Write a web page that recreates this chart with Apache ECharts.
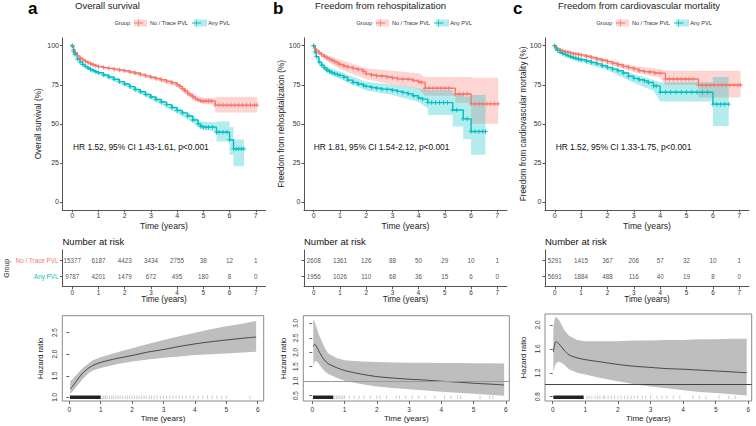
<!DOCTYPE html>
<html><head><meta charset="utf-8">
<script src="https://cdn.jsdelivr.net/npm/echarts@6/dist/echarts.min.js"></script>
<style>html,body{margin:0;padding:0;background:#fff}#c{width:756px;height:426px}</style>
</head><body><div id="c"></div>
<script>
// ---------------- DATA ----------------
const groups = ['No / Trace PVL', 'Any PVL'];
const panelLetters = ['a', 'b', 'c'];
const panelTitles = ['Overall survival', 'Freedom from rehospitalization', 'Freedom from cardiovascular mortality'];
const kmYTitles = ['Overall survival (%)', 'Freedom from rehospitalization (%)', 'Freedom from cardiovascular mortality (%)'];
const hrTexts = ['HR 1.52, 95% CI 1.43-1.61, p<0.001', 'HR 1.81, 95% CI 1.54-2.12, p<0.001', 'HR 1.52, 95% CI 1.33-1.75, p<0.001'];
const kmTicksX = [0, 1, 2, 3, 4, 5, 6, 7];
const kmTicksY = [0, 25, 50, 75, 100];
const riskTimes = [0, 1, 2, 3, 4, 5, 6, 7];
const hzTicksX = [0, 1, 2, 3, 4, 5, 6];
const hzTicksYA = [1.0, 1.5, 2.0, 2.5];
const hzTicksYB = [0.5, 1.0, 1.5, 2.0, 2.5, 3.0];
const hzTicksYC = [0.8, 1.2, 1.6, 2.0];

// Kaplan-Meier curves [time, survival %]
const kmA_noTrace = [[0,100],[0.05,97.5],[0.1,95.5],[0.2,93.5],[0.3,92],[0.4,91],[0.5,90],[0.6,89.2],[0.7,88.5],[0.8,87.8],[0.9,87.2],[1,86.6],[1.2,86],[1.4,85.5],[1.6,85],[1.8,84.5],[2,84],[2.2,83.2],[2.4,82.5],[2.6,81.6],[2.8,80.7],[3,79.8],[3.2,79],[3.4,78.2],[3.6,77.3],[3.8,76.3],[4,75],[4.1,74],[4.2,72.5],[4.3,71],[4.4,69.5],[4.5,68.5],[4.6,67.2],[4.7,66],[4.8,65.3],[4.9,64.8],[5.0,64.6],[5.1,64.6],[5.2,64.6],[5.3,64.6],[5.45,62],[5.6,62],[5.75,62],[5.9,62],[6.05,62],[6.2,62],[6.35,62],[6.5,62],[6.65,62],[6.8,62],[6.95,62],[7.05,62]];
const kmA_any = [[0,100],[0.05,96.5],[0.1,94.5],[0.2,91.5],[0.3,89.5],[0.4,88],[0.5,86.8],[0.6,85.7],[0.7,84.8],[0.8,84],[0.9,83.3],[1,82.7],[1.2,81.3],[1.4,80],[1.6,78.5],[1.8,77],[2,75.5],[2.2,73.8],[2.4,72],[2.6,70.5],[2.8,68.8],[3,67.2],[3.2,65.6],[3.4,64],[3.6,62.3],[3.8,60.5],[4,58.5],[4.2,57],[4.4,55],[4.6,52.5],[4.8,50],[4.9,48.5],[5,47.9],[5.1,47.9],[5.2,47.9],[5.35,47.9],[5.5,44.6],[5.6,44.6],[5.75,44.6],[5.9,44.6],[6.0,39.8],[6.15,34],[6.25,34],[6.35,34],[6.45,34],[6.55,34]];
const kmB_noTrace = [[0,100],[0.05,98],[0.1,97],[0.2,95.5],[0.3,94.3],[0.4,93.3],[0.5,92.3],[0.6,91.4],[0.7,90.6],[0.8,89.8],[0.9,89],[1,88],[1.15,87],[1.3,86.3],[1.5,85.5],[1.7,84.8],[1.9,83.5],[2,82],[2.2,81.3],[2.4,80.8],[2.6,80.5],[2.8,80],[3,79.5],[3.2,78.8],[3.4,78.5],[3.6,78.5],[3.8,77.7],[4,77],[4.1,76.5],[4.25,72.8],[4.4,72.8],[4.55,72.8],[4.7,72.8],[4.85,72.8],[5.0,72.8],[5.15,72.8],[5.4,69.1],[5.55,69.1],[5.7,69.1],[5.85,69.1],[6.0,62.8],[6.15,62.8],[6.3,62.8],[6.45,62.8],[6.6,62.8],[6.75,62.8],[6.9,62.8],[7.03,62.8]];
const kmB_any = [[0,100],[0.05,96],[0.1,93],[0.2,89.5],[0.3,87.5],[0.4,85.8],[0.5,84.5],[0.6,83.5],[0.7,82.7],[0.8,82],[0.9,81.5],[1,81],[1.15,79.8],[1.3,78],[1.5,76.5],[1.7,75.5],[1.9,74.6],[2,74],[2.2,73.3],[2.4,72.8],[2.6,72.2],[2.8,72],[3,71.5],[3.2,70.8],[3.4,70],[3.6,69.2],[3.8,68],[4,66.5],[4.15,65.8],[4.35,63.6],[4.5,63.6],[4.65,63.6],[4.8,63.6],[4.95,63.6],[5.1,63.6],[5.3,58.9],[5.45,58.9],[5.7,53.2],[5.85,53.2],[6.0,45.1],[6.15,45.1],[6.3,45.1],[6.45,45.1],[6.55,45.1]];
const kmC_noTrace = [[0,100],[0.05,98.8],[0.1,98],[0.2,97.2],[0.3,96.6],[0.4,96.1],[0.5,95.7],[0.6,95.3],[0.7,94.9],[0.8,94.6],[0.9,94.3],[1,94],[1.2,93.3],[1.4,92.5],[1.6,91.5],[1.8,90.7],[2,89.8],[2.2,88.8],[2.4,87.8],[2.6,86.8],[2.8,86],[3,85.2],[3.2,84],[3.4,83.4],[3.6,83],[3.8,82.5],[4,82.3],[4.2,78.7],[4.35,78.7],[4.5,78.7],[4.65,78.7],[4.8,78.7],[4.95,78.7],[5.1,78.7],[5.25,78.7],[5.45,74.9],[5.6,74.9],[5.75,74.9],[5.9,74.9],[6.05,74.9],[6.2,74.9],[6.35,74.9],[6.5,74.9],[6.65,74.9],[6.8,74.9],[6.95,74.9],[7.05,74.9]];
const kmC_any = [[0,100],[0.05,98],[0.1,97],[0.2,95.8],[0.3,95],[0.4,94.2],[0.5,93.5],[0.6,92.9],[0.7,92.3],[0.8,91.8],[0.9,91.3],[1,90.9],[1.2,90.2],[1.4,89.3],[1.6,88.4],[1.8,87.2],[2,86],[2.2,85],[2.4,84],[2.6,82.5],[2.8,80.5],[3,79.1],[3.2,78.2],[3.4,77.5],[3.55,76.5],[3.75,74.3],[3.85,74.3],[4.0,70.2],[4.2,70.2],[4.4,70.2],[4.6,70.2],[4.8,70.2],[5.0,70.2],[5.2,70.2],[5.4,70.2],[5.6,70.2],[5.8,70.2],[6.0,62.6],[6.15,62.6],[6.3,62.6],[6.45,62.6],[6.6,62.6]];

// 95% CI bands [time, lower, upper]
const bandA_noTrace = [[0,100,100],[0.1,95,96],[0.25,92.3,93.5],[0.5,89.3,90.7],[1,85.9,87.3],[2,83.2,84.8],[3,78.9,80.7],[4,73.7,76.3],[4.2,71,74.5],[4.5,67.3,70.7],[4.8,64.2,67.6],[5.0,62.6,66.6],[5.45,62.6,66.6],[5.45,57.2,67.4],[7.05,57.2,67.4]];
const bandA_any = [[0,100,100],[0.1,93.8,95.2],[0.25,89.8,91.3],[0.5,86,87.6],[1,81.8,83.6],[2,74.3,76.7],[3,65.8,68.6],[4,56.8,60.3],[4.5,52,56.3],[4.9,46.5,51.5],[5.5,45,50.8],[5.5,38.7,51.5],[6.0,38.7,51.5],[6.0,30,48],[6.15,30,48],[6.15,22.8,40],[6.55,22.8,40]];
const bandB_noTrace = [[0,100,100],[0.1,96,98],[0.25,93.8,96],[0.5,90.6,94],[1,85,91],[2,78.5,85.6],[3,75,84],[4,72.5,82.3],[4.25,68,80],[5.4,68,80],[5.4,63.5,80],[6.0,63.5,80],[6.0,50,79.5],[7.03,50,79.5]];
const bandB_any = [[0,100,100],[0.1,91.5,94.5],[0.25,87.2,90.8],[0.5,82.5,86.5],[1,78.7,83.4],[2,71.3,77],[3,68.5,75],[4,64,72.8],[4.35,60,71.5],[4.35,55.7,71.5],[5.3,55.7,71.5],[5.3,48.3,69],[5.7,48.3,69],[5.7,40.2,67.5],[6.0,40.2,67.5],[6.0,30.2,68.5],[6.55,30.2,68.5]];
const bandC_noTrace = [[0,100,100],[0.5,95,96.4],[1,93,95],[2,88.3,91.2],[3,83.2,87.2],[4,79.5,85],[4.2,74.9,84],[5.45,74.9,84],[5.45,66.8,84],[7.05,66.8,84]];
const bandC_any = [[0,100,100],[0.5,92.5,94.5],[1,89.5,92.3],[2,84.3,87.7],[3,76.3,81.8],[3.75,71,78],[4.0,64.3,76.6],[6.0,64.3,76.6],[6.0,48.7,80],[6.6,48.7,80]];

// Numbers at risk
const riskA_noTrace = [15377, 6187, 4423, 3434, 2755, 38, 12, 1];
const riskA_any = [9787, 4201, 1479, 672, 495, 180, 8, 0];
const riskB_noTrace = [2608, 1361, 126, 88, 50, 29, 10, 1];
const riskB_any = [1956, 1026, 110, 68, 36, 15, 6, 0];
const riskC_noTrace = [5291, 1415, 367, 206, 57, 32, 10, 1];
const riskC_any = [5691, 1884, 488, 116, 40, 19, 8, 0];

// Time-varying hazard ratio
const hrA_t = [0.03,0.1,0.2,0.3,0.4,0.5,0.6,0.75,1,1.5,2,2.5,3,3.5,4,4.5,5,5.5,5.95];
const hrA = [1.19,1.25,1.35,1.45,1.54,1.61,1.67,1.74,1.81,1.9,1.97,2.05,2.11,2.18,2.24,2.29,2.33,2.37,2.4];
const hrA_lo = [1.08,1.13,1.22,1.31,1.4,1.48,1.55,1.62,1.68,1.77,1.83,1.88,1.92,1.95,1.98,2.0,2.02,2.04,2.06];
const hrA_hi = [1.38,1.42,1.5,1.58,1.66,1.72,1.78,1.86,1.93,2.04,2.14,2.24,2.33,2.42,2.5,2.58,2.65,2.71,2.77];
const hrB_t = [0.03,0.07,0.12,0.2,0.3,0.4,0.5,0.75,1,1.5,2,2.5,3,3.5,4,4.5,5,5.5,5.95];
const hrB = [2.2,2.28,2.22,2.05,1.85,1.7,1.6,1.47,1.37,1.25,1.16,1.11,1.07,1.04,1.0,0.97,0.93,0.9,0.87];
const hrB_lo = [1.5,1.68,1.7,1.6,1.45,1.33,1.25,1.12,1.02,0.9,0.82,0.77,0.72,0.68,0.64,0.6,0.57,0.53,0.5];
const hrB_hi = [3.15,3.05,2.9,2.62,2.36,2.12,1.95,1.8,1.72,1.68,1.66,1.65,1.64,1.64,1.63,1.63,1.62,1.62,1.61];
const hrC_t = [0.02,0.06,0.1,0.2,0.35,0.5,0.75,1,1.5,2,2.5,3,3.5,4,4.5,5,5.5,5.95];
const hrC = [1.55,1.68,1.72,1.68,1.58,1.5,1.45,1.42,1.38,1.34,1.31,1.29,1.27,1.26,1.245,1.23,1.215,1.2];
const hrC_lo = [1.2,1.3,1.36,1.39,1.34,1.26,1.2,1.17,1.11,1.06,1.01,0.97,0.94,0.91,0.88,0.86,0.84,0.82];
const hrC_hi = [1.95,2.1,2.14,2.08,1.92,1.82,1.75,1.73,1.73,1.73,1.74,1.74,1.75,1.75,1.76,1.76,1.77,1.77];

// Event-time rugs (dense span [start,end] + individual ticks)
const rugA_dense = [0.02, 1.0];
const rugA_ticks = [1.05,1.1,1.15,1.2,1.28,1.35,1.4,1.48,1.55,1.62,1.7,1.78,1.85,1.92,2.0,2.08,2.15,2.22,2.3,2.38,2.45,2.55,2.62,2.7,2.8,2.9,3.0,3.1,3.2,3.3,3.4,3.5,3.6,3.72,3.85,3.95,4.1,4.25,4.4,4.55,4.7,4.85,5.0,5.75];
const rugB_dense = [0.02, 0.65];
const rugB_ticks = [0.7,0.75,0.8,0.85,0.9,0.95,1.0,1.15,1.3,1.45,1.6,1.8,2.0,2.1,2.3,2.6,2.7,2.9,3.1,3.3,3.5,3.8,4.1,4.3,4.5,4.6,5.2,5.5,5.6];
const rugC_dense = [0.02, 0.95];
const rugC_ticks = [1.05,1.12,1.2,1.3,1.38,1.45,1.55,1.6,1.7,1.8,1.9,2.0,2.1,2.2,2.3,2.4,2.5,2.6,2.75,2.85,3.0,3.2,3.35,3.5,3.7,3.9,4.3,4.5,4.7,5.1,5.4,5.6];

// ---------------- STYLE / LAYOUT ----------------
const RED = '#F8766D', TEAL = '#00BFC4';
const RED_F = 'rgba(248,118,109,0.3)', TEAL_F = 'rgba(0,191,196,0.3)';
const FONT = "'Liberation Sans', Arial, Helvetica, sans-serif";
const PLUS = 'path://M4,0H6V4H10V6H6V10H4V6H0V4H4Z';
const KEY = 'path://M0,4.4H6V0H7V4.4H13V5.6H7V10H6V5.6H0Z';
const AX = '#555', TXT = '#333';

const panels = [
  {km:[kmA_noTrace,kmA_any], band:[bandA_noTrace,bandA_any], risk:[riskA_noTrace,riskA_any],
   hr:[hrA_t,hrA,hrA_lo,hrA_hi], rug:[rugA_dense,rugA_ticks], hzTicks:hzTicksYA},
  {km:[kmB_noTrace,kmB_any], band:[bandB_noTrace,bandB_any], risk:[riskB_noTrace,riskB_any],
   hr:[hrB_t,hrB,hrB_lo,hrB_hi], rug:[rugB_dense,rugB_ticks], hzTicks:hzTicksYB},
  {km:[kmC_noTrace,kmC_any], band:[bandC_noTrace,bandC_any], risk:[riskC_noTrace,riskC_any],
   hr:[hrC_t,hrC,hrC_lo,hrC_hi], rug:[rugC_dense,rugC_ticks], hzTicks:hzTicksYC}
];
const LAY = [
  {kmL:62.5, kmW:203, hzL:62.3, hzW:201.4, hzT:315.7, hzH:85.3, hzX:[-0.223,6.19], hzY:[0.914,2.895], letterX:28, titleX:75, legX:134, hrX:73, yGap:20, hzGap:18, refLine:null},
  {kmL:304, kmW:203, hzL:303.3, hzW:206, hzT:315.7, hzH:85.3, hzX:[-0.28,6.11], hzY:[0.317,3.262], letterX:273, titleX:315, legX:376, hrX:313.7, yGap:19, hzGap:16, refLine:'#9a9a9a'},
  {kmL:545, kmW:204, hzL:545, hzW:206.7, hzT:314, hzH:87, hzX:[-0.236,6.104], hzY:[0.728,2.184], letterX:513, titleX:558, legX:616, hrX:555.7, yGap:18, hzGap:18, refLine:'#444'}
];
const KM_TOP = 37.9, KM_H = 171.9, RISK_TOP = 250, RISK_H = 36.7;
const LEG_FS = 5.6, LEG_TOP = 19.5, KEY_W = 13, KEY_H = 7, LEG_GAP = 4;

function textW(t, fs) {
  const c = document.createElement('canvas').getContext('2d');
  c.font = fs + 'px ' + FONT;
  return c.measureText(t).width;
}

const grid = [], xAxis = [], yAxis = [], series = [], title = [], legend = [], graphic = [];

panels.forEach((P, p) => {
  const L = LAY[p];
  grid.push({left:L.kmL, top:KM_TOP, width:L.kmW, height:KM_H, outerBoundsMode:'none'});
  grid.push({left:L.kmL, top:RISK_TOP, width:L.kmW, height:RISK_H, outerBoundsMode:'none'});
  grid.push({left:L.hzL, top:L.hzT, width:L.hzW, height:L.hzH, outerBoundsMode:'none', show:true, borderColor:'#8a8a8a', borderWidth:1, backgroundColor:'transparent'});
  const gi = p * 3;
  const baseX = (g, labelFs, nameFs, gap) => ({
    type:'value', gridIndex:g, min:-0.37, max:7.37,
    axisLine:{show:true, onZero:false, lineStyle:{color:AX, width:1}},
    axisTick:{show:true, length:2.5, customValues:kmTicksX, lineStyle:{color:AX}},
    axisLabel:{customValues:kmTicksX, fontSize:labelFs, color:TXT, margin:2.5, fontFamily:FONT},
    splitLine:{show:false},
    name:'Time (years)', nameLocation:'middle', nameGap:gap, nameMoveOverlap:false,
    nameTextStyle:{fontSize:nameFs, color:'#222', fontFamily:FONT}
  });
  xAxis.push(baseX(gi, 7, 8.6, 11.5));
  xAxis.push(baseX(gi + 1, 6.3, 8.2, 9));
  xAxis.push({
    type:'value', gridIndex:gi + 2, min:L.hzX[0], max:L.hzX[1],
    axisLine:{show:false},
    axisTick:{show:true, length:3, customValues:hzTicksX, lineStyle:{color:'#666'}},
    axisLabel:{customValues:hzTicksX, fontSize:6.5, color:TXT, margin:5, fontFamily:FONT},
    splitLine:{show:false},
    name:'Time (years)', nameLocation:'middle', nameGap:13.5, nameMoveOverlap:false,
    nameTextStyle:{fontSize:8, color:'#222', fontFamily:FONT}
  });
  yAxis.push({
    type:'value', gridIndex:gi, min:-5, max:105,
    axisLine:{show:true, onZero:false, lineStyle:{color:AX, width:1}},
    axisTick:{show:true, length:2.5, customValues:kmTicksY, lineStyle:{color:AX}},
    axisLabel:{customValues:kmTicksY, fontSize:7, color:TXT, margin:3.5, fontFamily:FONT},
    splitLine:{show:false},
    name:kmYTitles[p], nameLocation:'middle', nameGap:L.yGap, nameMoveOverlap:false,
    nameTextStyle:{fontSize:8.2, color:'#222', fontFamily:FONT}
  });
  yAxis.push({
    type:'value', gridIndex:gi + 1, min:0.4, max:2.6, inverse:true,
    axisLine:{show:true, onZero:false, lineStyle:{color:AX, width:1}},
    axisTick:{show:true, length:2.5, customValues:[1, 2], lineStyle:{color:AX}},
    axisLabel:{show:p === 0, customValues:[1, 2], margin:4, fontFamily:FONT,
      formatter: v => (v === 1 ? '{r|' + groups[0] + '}' : '{t|' + groups[1] + '}'),
      rich:{r:{color:RED, fontSize:6.3, fontFamily:FONT}, t:{color:TEAL, fontSize:6.3, fontFamily:FONT}}},
    splitLine:{show:false},
    name:p === 0 ? 'Group' : '', nameLocation:'middle', nameGap:53, nameMoveOverlap:false,
    nameTextStyle:{fontSize:6.8, color:'#222', fontFamily:FONT}
  });
  yAxis.push({
    type:'value', gridIndex:gi + 2, min:L.hzY[0], max:L.hzY[1],
    axisLine:{show:false},
    axisTick:{show:true, length:3, customValues:P.hzTicks, lineStyle:{color:'#666'}},
    axisLabel:{customValues:P.hzTicks, rotate:90, fontSize:6.3, color:TXT, margin:5, fontFamily:FONT,
      formatter: v => Number(v).toFixed(1)},
    splitLine:{show:false},
    name:'Hazard ratio', nameLocation:'middle', nameGap:L.hzGap, nameMoveOverlap:false,
    nameTextStyle:{fontSize:7.6, color:'#222', fontFamily:FONT}
  });

  const fills = [RED_F, TEAL_F], cols = [RED, TEAL];
  P.band.forEach((B, k) => {
    series.push({
      type:'custom', xAxisIndex:gi, yAxisIndex:gi, data:B, encode:{x:0, y:[1, 2]}, clip:true, silent:true, z:1,
      renderItem:(params, api) => {
        if (params.dataIndex !== 0) return null;
        const up = B.map(d => api.coord([d[0], d[2]]));
        const lo = B.map(d => api.coord([d[0], d[1]])).reverse();
        return {type:'polygon', shape:{points:up.concat(lo)}, style:{fill:fills[k]}};
      }
    });
  });
  P.km.forEach((D, k) => {
    series.push({
      type:'line', name:groups[k], xAxisIndex:gi, yAxisIndex:gi, data:D, step:'end',
      showSymbol:true, showAllSymbol:true, symbol:PLUS, symbolSize:4.5,
      lineStyle:{color:cols[k], width:1.4}, itemStyle:{color:cols[k]}, silent:true, z:3, clip:true
    });
  });
  P.risk.forEach((R, k) => {
    series.push({
      type:'scatter', xAxisIndex:gi + 1, yAxisIndex:gi + 1,
      data:riskTimes.map((t, i) => [t, k + 1, R[i]]),
      symbolSize:1, itemStyle:{color:'rgba(0,0,0,0)'}, silent:true,
      label:{show:true, position:'inside', formatter:q => String(q.value[2]), fontSize:6.3, color:'#222', fontFamily:FONT}
    });
  });
  const [T, H, LO, HI] = P.hr;
  const bandRows = T.map((t, i) => [t, LO[i], HI[i]]);
  series.push({
    type:'custom', xAxisIndex:gi + 2, yAxisIndex:gi + 2, data:bandRows, encode:{x:0, y:[1, 2]}, clip:true, silent:true, z:1,
    renderItem:(params, api) => {
      if (params.dataIndex !== 0) return null;
      const up = bandRows.map(d => api.coord([d[0], d[2]]));
      const lo = bandRows.map(d => api.coord([d[0], d[1]])).reverse();
      return {type:'polygon', shape:{points:up.concat(lo)}, style:{fill:'#bebebe'}};
    }
  });
  const hrLine = {
    type:'line', xAxisIndex:gi + 2, yAxisIndex:gi + 2, data:T.map((t, i) => [t, H[i]]),
    smooth:0.3, showSymbol:false, lineStyle:{color:'#2a2a2a', width:0.8}, silent:true, z:3
  };
  if (L.refLine) {
    hrLine.markLine = {silent:true, symbol:['none', 'none'], label:{show:false},
      lineStyle:{color:L.refLine, width:1, type:'solid'}, data:[{yAxis:1}]};
  }
  series.push(hrLine);
  const yMin = L.hzY[0];
  const [dense, ticks] = P.rug;
  series.push({
    type:'custom', xAxisIndex:gi + 2, yAxisIndex:gi + 2, data:[[dense[0], yMin], [dense[1], yMin]], silent:true, z:4,
    renderItem:(params, api) => {
      if (params.dataIndex !== 0) return null;
      const a = api.coord([dense[0], yMin]), b = api.coord([dense[1], yMin]);
      return {type:'rect', shape:{x:a[0], y:a[1] - 5.5, width:b[0] - a[0], height:3.5}, style:{fill:'#222'}};
    }
  });
  series.push({
    type:'custom', xAxisIndex:gi + 2, yAxisIndex:gi + 2, data:ticks.map(t => [t, yMin]), silent:true, z:4,
    renderItem:(params, api) => {
      const c = api.coord([api.value(0), api.value(1)]);
      return {type:'line', shape:{x1:c[0], y1:c[1] - 2, x2:c[0], y2:c[1] - 5.5}, style:{stroke:'#999', lineWidth:0.5}};
    }
  });

  title.push({text:panelLetters[p], left:L.letterX, top:0, padding:0,
    textStyle:{fontSize:17, fontWeight:'bold', color:'#000', fontFamily:FONT}});
  title.push({text:panelTitles[p], left:L.titleX, top:0, padding:0,
    textStyle:{fontSize:9.5, fontWeight:'normal', color:'#222', fontFamily:FONT}});
  title.push({text:'Group', left:L.legX - textW('Group', LEG_FS) - 4, top:LEG_TOP + 0.5, padding:0,
    textStyle:{fontSize:LEG_FS, fontWeight:'normal', color:'#333', fontFamily:FONT}});
  title.push({text:hrTexts[p], left:L.hrX, top:142.5, padding:0,
    textStyle:{fontSize:8.4, fontWeight:'normal', color:'#111', fontFamily:FONT}});
  title.push({text:'Number at risk', left:L.kmL, top:236, padding:0,
    textStyle:{fontSize:9.5, fontWeight:'normal', color:'#111', fontFamily:FONT}});

  legend.push({left:L.legX, top:LEG_TOP, padding:0, orient:'horizontal', itemWidth:KEY_W, itemHeight:KEY_H,
    itemGap:LEG_GAP, icon:KEY, selectedMode:false, z:5,
    textStyle:{fontSize:LEG_FS, color:'#333', fontFamily:FONT}, data:groups.slice()});
  const x2 = L.legX + KEY_W + 5 + textW(groups[0], LEG_FS) + LEG_GAP;
  graphic.push({type:'rect', left:L.legX, top:LEG_TOP, shape:{width:KEY_W, height:KEY_H}, style:{fill:RED_F}, z:1, silent:true});
  graphic.push({type:'rect', left:x2, top:LEG_TOP, shape:{width:KEY_W, height:KEY_H}, style:{fill:TEAL_F}, z:1, silent:true});
});

const chart = echarts.init(document.getElementById('c'), null, {renderer:'svg', width:756, height:426});
chart.setOption({
  animation:false, backgroundColor:'#fff',
  textStyle:{fontFamily:FONT},
  title, legend, grid, xAxis, yAxis, series, graphic
});
</script></body></html>
